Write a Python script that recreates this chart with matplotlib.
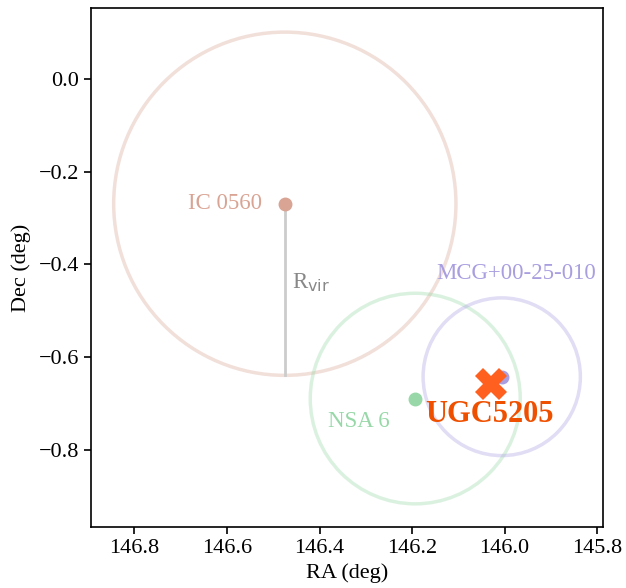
import matplotlib
matplotlib.use("Agg")
import matplotlib.pyplot as plt
from matplotlib.patches import Circle

plt.rcParams['font.family'] = ['Liberation Serif', 'DejaVu Serif']
plt.rcParams['mathtext.fontset'] = 'dejavusans'

# Host galaxy
host_name = "UGC5205"
host_ra = 146.030
host_dec = -0.658

# Neighbouring galaxies: name, position, virial radius (deg)
names = ["IC 0560", "NSA 6", "MCG+00-25-010"]
ra = [146.475, 146.193, 146.006]
dec = [-0.269, -0.689, -0.642]
rvir = [0.370, 0.227, 0.170]
colors = ["#d9a494", "#98d8a8", "#a89ee0"]

fig = plt.figure(figsize=(6.26, 5.88), dpi=100)
ax = fig.add_axes([0.1454, 0.1037, 0.8179, 0.8827])

for n, x, y, r, c in zip(names, ra, dec, rvir, colors):
    ax.add_patch(Circle((x, y), r, fill=False, edgecolor=c, alpha=0.35, lw=2.5))
    ax.plot(x, y, 'o', color=c, ms=9, zorder=3)

# Virial radius indicator for the largest halo
ax.plot([ra[0], ra[0]], [dec[0], dec[0] - rvir[0]], color="#cccccc", lw=2, zorder=2)
ax.text(ra[0] - 0.015, dec[0] - rvir[0] * 0.46, r"R$_{\rm vir}$", color="#888888",
        fontsize=16.5, ha="left", va="center")

ax.text(ra[0] + 0.05, dec[0], names[0], color=colors[0], fontsize=16.5,
        ha="right", va="center")
ax.text(ra[1] + 0.055, dec[1] - 0.049, names[1], color=colors[1], fontsize=16.5,
        ha="right", va="center")
ax.text(ra[2] - 0.032, dec[2] + 0.222, names[2], color=colors[2], fontsize=16.5,
        ha="center", va="center")

ax.plot(host_ra, host_dec, 'X', color="#ff6020", ms=23, mew=0, zorder=4)
ax.text(host_ra + 0.003, host_dec - 0.0655, host_name, color="#ee5000", fontsize=22,
        fontweight="bold", ha="center", va="center", zorder=5)

ax.set_xlim(146.894, 145.787)
ax.set_ylim(-0.966, 0.153)
ax.set_xticks([146.8, 146.6, 146.4, 146.2, 146.0, 145.8])
ax.set_yticks([0.0, -0.2, -0.4, -0.6, -0.8])
ax.tick_params(labelsize=16, length=5, width=1.2)
for s in ax.spines.values():
    s.set_linewidth(1.2)
ax.set_xlabel("RA (deg)", fontsize=16, labelpad=4)
ax.set_ylabel("Dec (deg)", fontsize=16, labelpad=6)

fig.savefig("out.png", dpi=100)
